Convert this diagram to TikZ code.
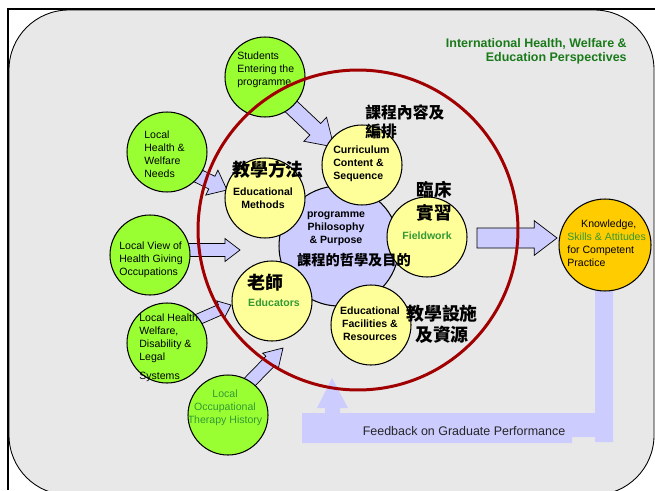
\documentclass[tikz,border=0pt]{standalone}
\usepackage{fontspec}
\setmainfont{Liberation Sans}
\newfontfamily\cjk{Noto Sans CJK TC}
\usetikzlibrary{calc}
\definecolor{bgg}{HTML}{E8E8E8}
\definecolor{lav}{HTML}{CCCCFF}
\definecolor{lgreen}{HTML}{99FF33}
\definecolor{lyel}{HTML}{FFFF99}
\definecolor{orng}{HTML}{FFCC00}
\definecolor{dred}{HTML}{A00000}
\definecolor{tgreen}{HTML}{339933}
\definecolor{hgreen}{HTML}{1A7A1A}
\tikzset{
  bubble/.style={circle, draw=black, line width=0.6pt, inner sep=0pt},
  gbub/.style={bubble, fill=lgreen, minimum size=1.6cm},
  ybub/.style={bubble, fill=lyel, minimum size=1.6cm},
  blockarrow/.style={fill=lav, draw=black, line width=0.4pt, line join=miter},
  smalltxt/.style={font=\fontsize{6}{7.4}\selectfont, inner sep=0pt},
  ltxt/.style={smalltxt, align=left, anchor=west},
  ctxt/.style={smalltxt, align=center},
  btxt/.style={font=\bfseries\fontsize{6}{7.4}\selectfont, inner sep=0pt, align=center},
  bltxt/.style={btxt, align=left, anchor=west},
  cjkbig/.style={font=\cjk\bfseries\fontsize{10.2}{12.5}\selectfont, inner sep=0pt, align=center},
}
\newcommand{\barrow}[5]{%
  \coordinate (bah) at ($(#2)!#5!(#1)$);
  \draw[blockarrow] ($(#1)!#3!-90:(#2)$) -- ($(bah)!#3!90:(#1)$) -- ($(bah)!#4!90:(#1)$) -- (#2)
     -- ($(bah)!#4!-90:(#1)$) -- ($(bah)!#3!-90:(#1)$) -- ($(#1)!#3!90:(#2)$) -- cycle;}
\begin{document}
\begin{tikzpicture}[x=0.02cm, y=-0.02cm]
\useasboundingbox (0,0) rectangle (655,490);
\fill[white] (0,0) rectangle (655,490);
% background panel and frame
\filldraw[fill=bgg, draw=black, line width=0.5pt, rounded corners=34pt] (9,10) rectangle (654,495);
\draw[line width=1.5pt] (8,490) -- (8,9) -- (655,9);

% feedback path
\fill[lav] (595,285) -- (613,285) -- (613,442) -- (595,442) -- (595,437) -- (572,437) -- (572,443)
  -- (302,443) -- (302,413) -- (325,413) -- (325,408) -- (317,408) -- (332,378) -- (348,408)
  -- (340,408) -- (340,413) -- (595,413) -- cycle;
\node[font=\fontsize{7.1}{8}\selectfont, text=black!85, inner sep=0pt] (fb) at (464,431) {Feedback on Graduate Performance};

% arrow end points
\coordinate (a1t) at (280,96);  \coordinate (a1h) at (334,147);
\coordinate (a2t) at (190,172); \coordinate (a2h) at (227,190);
\coordinate (a3t) at (180,250); \coordinate (a3h) at (240,250);
\coordinate (a4t) at (192,322); \coordinate (a4h) at (231,305);
\coordinate (a5t) at (236,396); \coordinate (a5h) at (283,348);
\coordinate (a6t) at (477,238); \coordinate (a6h) at (557,238);
\barrow{a1t}{a1h}{4.5pt}{9.4pt}{14.7pt}
\barrow{a2t}{a2h}{4pt}{7.9pt}{9.6pt}
\barrow{a3t}{a3h}{3.7pt}{6.5pt}{8.5pt}
\barrow{a4t}{a4h}{3.1pt}{5.4pt}{6.5pt}
\barrow{a5t}{a5h}{3.7pt}{6.2pt}{10.2pt}
\barrow{a6t}{a6h}{5.7pt}{9.9pt}{13pt}

% green bubbles
\node[gbub] (stud)  at (265,77)  {};
\node[gbub] (needs) at (167,152) {};
\node[gbub] (view)  at (150,255) {};
\node[gbub] (disab) at (167,343) {};
\node[gbub] (othist) at (228,415) {};
% centre
\node[bubble, fill=lav, minimum size=2.4cm] (phil) at (339,246) {};
% yellow bubbles
\node[ybub] (meth)  at (265,198) {};
\node[ybub] (curr)  at (362,165) {};
\node[ybub] (field) at (427,237) {};
\node[ybub] (facil) at (371,325) {};
\node[ybub] (edu)   at (272,301) {};
% outcome
\node[bubble, fill=orng, minimum size=1.84cm] (know) at (605,245) {};

% texts in green bubbles
\node[ltxt] (tstud) at (237,70) {Students\\Entering the\\programme};
\node[ltxt] (tneeds) at (144,154) {Local\\Health \&\\Welfare\\Needs};
\node[ltxt] (tview) at (119,260) {Local View of\\Health Giving\\Occupations};
\node[ltxt] (tdisab) at (139,348) {Local Health\\Welfare,\\Disability \&\\Legal\\[3.4pt]Systems};
\node[ctxt, text=tgreen] (tot) at (225,408) {Local\\Occupational\\Therapy History};

% texts in yellow bubbles
\node[btxt] (tmeth) at (263,198) {Educational\\Methods};
\node[bltxt] (tcurr) at (333,164) {Curriculum\\Content \&\\Sequence};
\node[btxt] (tphil) at (336,229) {programme\\Philosophy\\\& Purpose};
\node[btxt, text=tgreen] (tfield) at (427,236) {Fieldwork};
\node[btxt] (tfacil) at (370,324) {Educational\\Facilities \&\\Resources};
\node[btxt, text=tgreen] (tedu) at (274,303) {Educators};
\node[ltxt] (tknow) at (567,243.5) {\hspace*{7.9pt}Knowledge,\\\textcolor{tgreen}{Skills \& Attitudes}\\for Competent\\Practice};

% Chinese labels
\node[cjkbig] (cmeth) at (268,170) {教學方法};
\node[cjkbig, font=\cjk\bfseries\fontsize{9}{10.8}\selectfont, align=left, anchor=west] (ccurr) at (365,122) {課程內容及\\編排};
\node[cjkbig, font=\cjk\bfseries\fontsize{10}{13}\selectfont] (cfield) at (434.5,201.5) {臨床\\實習};
\node[cjkbig, font=\cjk\bfseries\fontsize{8.1}{9}\selectfont] (cphil) at (354,260) {課程的哲學及目的};
\node[cjkbig] (cedu) at (265,283) {老師};
\node[cjkbig, font=\cjk\bfseries\fontsize{10.2}{12}\selectfont] (cfacil) at (442,324.5) {教學設施\\及資源};

% title
\node[font=\bfseries\fontsize{7.1}{8}\selectfont, text=hgreen, align=right, anchor=east, inner sep=0pt] (title) at (627,51) {International Health, Welfare \&\\Education Perspectives};

% red ring
\node[circle, draw=dred, line width=1.7pt, minimum size=6.4cm, inner sep=0pt] (ring) at (358,230) {};
\end{tikzpicture}
\end{document}
